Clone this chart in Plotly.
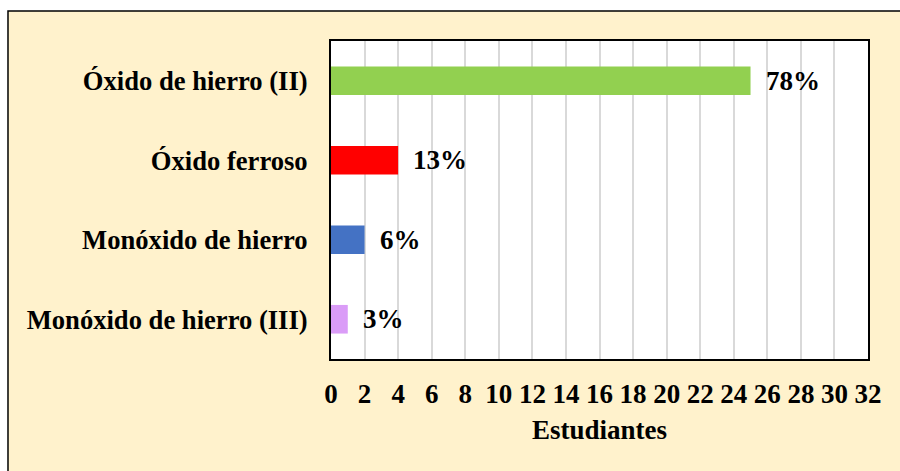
import plotly.graph_objects as go

# Respuestas: número de estudiantes por opción
categorias = ["Óxido de hierro (II)", "Óxido ferroso", "Monóxido de hierro", "Monóxido de hierro (III)"]
estudiantes = [25, 4, 2, 1]
porcentajes = ["78%", "13%", "6%", "3%"]
colores = ["#92D050", "#FF0000", "#4472C4", "#DA9CF7"]
ticks_x = list(range(0, 33, 2))

FUENTE = "Liberation Serif, Times New Roman, serif"
TAM = 27

fig = go.Figure(
    go.Bar(
        x=estudiantes,
        y=categorias,
        orientation="h",
        marker=dict(color=colores, line=dict(width=0)),
        width=0.36,
        hoverinfo="skip",
    )
)

# Etiquetas de porcentaje a la derecha de cada barra
for cat, val, pct in zip(categorias, estudiantes, porcentajes):
    fig.add_annotation(
        x=val, y=cat, text=f"<b>{pct}</b>", showarrow=False,
        xanchor="left", xshift=13, font=dict(family=FUENTE, size=TAM, color="black"),
    )

# Marco exterior con fondo crema y área de trazado blanca
fig.add_shape(type="rect", xref="paper", yref="paper", x0=-0.6015, x1=1.08, y0=-0.40, y1=1.0943,
              fillcolor="#FFF2CC", line=dict(color="black", width=1.5), layer="below")
fig.add_shape(type="rect", xref="paper", yref="paper", x0=0, x1=1, y0=0, y1=1,
              fillcolor="white", line=dict(width=0), layer="below")

fig.update_layout(
    width=900, height=471,
    margin=dict(l=331, r=32, t=41, b=112),
    paper_bgcolor="white",
    plot_bgcolor="rgba(0,0,0,0)",
    showlegend=False,
    font=dict(family=FUENTE, size=TAM, color="black"),
    xaxis=dict(
        range=[0, 32], tickvals=ticks_x, ticktext=[f"<b>{t}</b>" for t in ticks_x],
        showgrid=True, gridcolor="#D9D9D9", gridwidth=1.5, zeroline=False,
        showline=True, linecolor="black", linewidth=2, mirror=True,
        ticks="outside", ticklen=10, tickcolor="rgba(0,0,0,0)",
        title=dict(text="<b>Estudiantes</b>", standoff=12, font=dict(family=FUENTE, size=TAM)),
        tickfont=dict(family=FUENTE, size=TAM),
    ),
    yaxis=dict(
        categoryorder="array", categoryarray=categorias[::-1],
        tickvals=categorias, ticktext=[f"<b>{c}</b>" for c in categorias],
        showgrid=False, zeroline=False,
        showline=True, linecolor="black", linewidth=2, mirror=True,
        ticks="outside", ticklen=16, tickcolor="rgba(0,0,0,0)",
        tickfont=dict(family=FUENTE, size=26.6),
    ),
)

fig.write_html("out.html")
